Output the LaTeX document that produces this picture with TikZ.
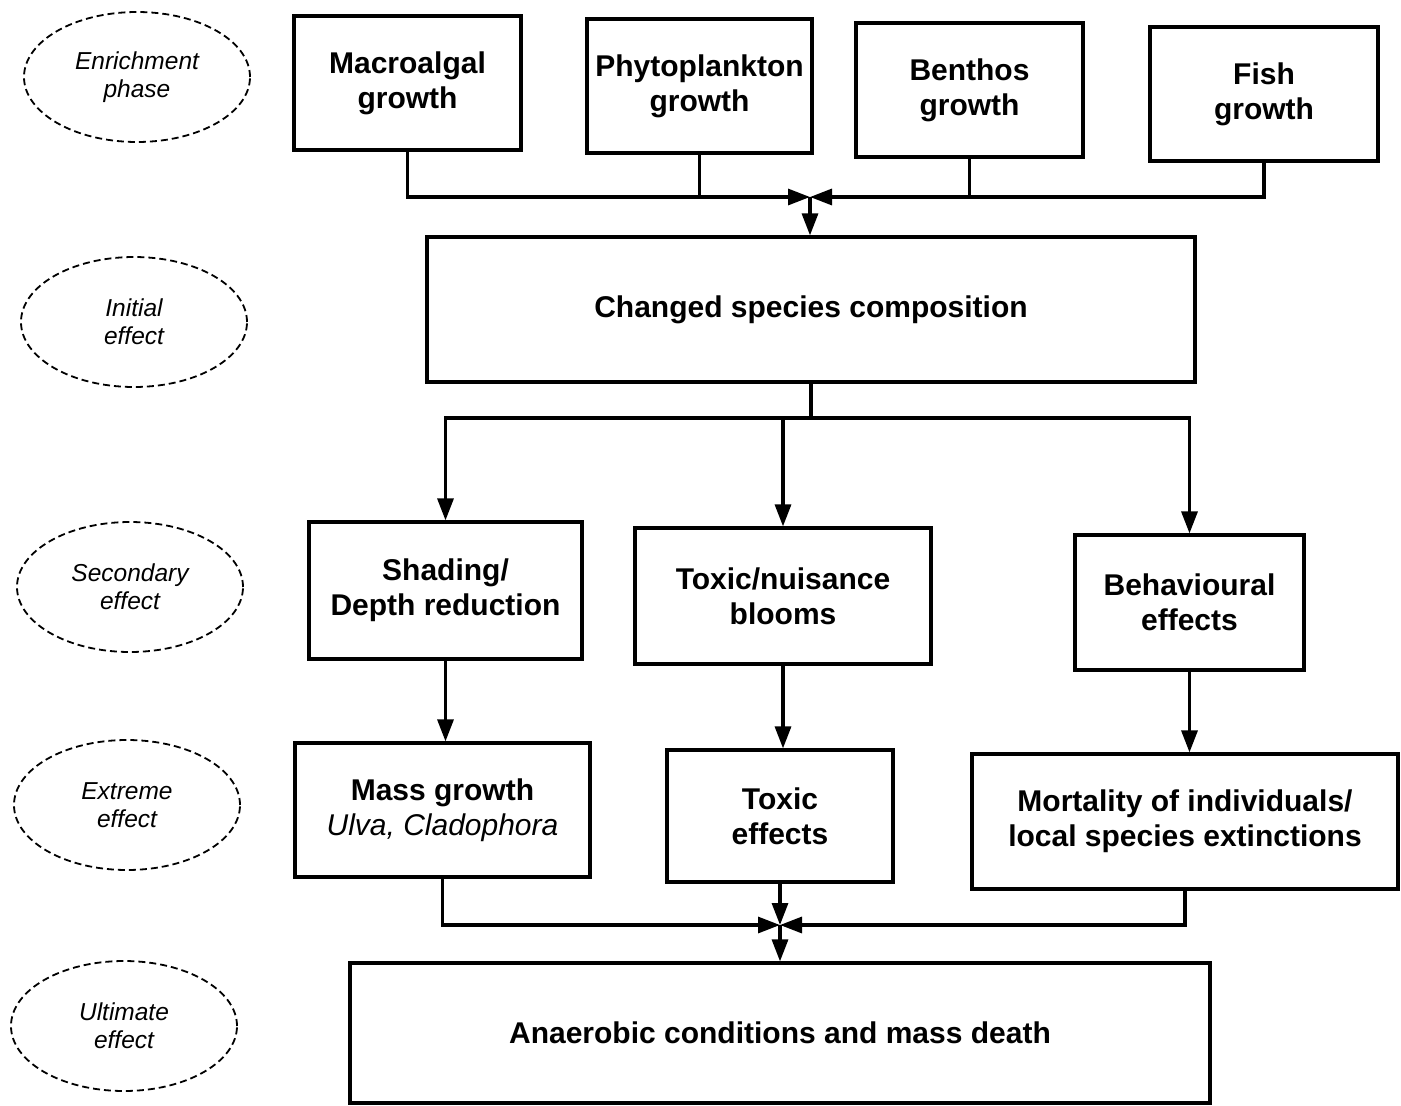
\documentclass[tikz,border=0pt]{standalone}
\usepackage{fontspec}
\setmainfont{Liberation Sans}
\usetikzlibrary{arrows.meta,shapes.geometric}
\begin{document}
\begin{tikzpicture}[x=1pt,y=-1pt,
 box/.style={draw, line width=3.2pt, align=center, inner sep=0pt, font=\bfseries\fontsize{30}{35}\selectfont},
 phase/.style={draw, ellipse, dash pattern=on 7pt off 4pt, line width=1.8pt, align=center, inner sep=0pt,
   minimum width=226pt, minimum height=130pt, font=\itshape\fontsize{24.5}{28}\selectfont},
 link/.style={line width=3.2pt},
 arr/.style={link, -{Triangle[length=22pt,width=16pt]}},
]
\useasboundingbox (0,0) rectangle (1401,1106);

% phase labels
\node[phase] (p1) at (137,77) {Enrichment\\phase};
\node[phase] (p2) at (134,322) {Initial\\effect};
\node[phase] (p3) at (130,587) {Secondary\\effect};
\node[phase] (p4) at (127,805) {Extreme\\effect};
\node[phase] (p5) at (124,1026) {Ultimate\\effect};

% boxes
\node[box, minimum width=227pt, minimum height=134pt] (mac) at (407.5,83) {Macroalgal\\growth};
\node[box, minimum width=225pt, minimum height=134pt] (phy) at (699.5,86) {Phytoplankton\\growth};
\node[box, minimum width=227pt, minimum height=134pt] (ben) at (969.5,90) {Benthos\\growth};
\node[box, minimum width=228pt, minimum height=134pt] (fish) at (1264,94) {Fish\\growth};
\node[box, minimum width=768pt, minimum height=145pt] (chg) at (811,309.5) {Changed species composition};
\node[box, minimum width=273pt, minimum height=137pt] (sha) at (445.5,590.5) {Shading/\\Depth reduction};
\node[box, minimum width=296pt, minimum height=136pt] (tox) at (783,596) {Toxic/nuisance\\blooms};
\node[box, minimum width=229pt, minimum height=135pt] (beh) at (1189.5,602.5) {Behavioural\\effects};
\node[box, minimum width=295pt, minimum height=134pt] (mass) at (442.5,810) {Mass growth\\{\mdseries\itshape Ulva, Cladophora}};
\node[box, minimum width=226pt, minimum height=132pt] (toxe) at (780,816) {Toxic\\effects};
\node[box, minimum width=426pt, minimum height=135pt] (mort) at (1185,821.5) {Mortality of individuals/\\local species extinctions};
\node[box, minimum width=860pt, minimum height=140pt] (ana) at (780,1033) {Anaerobic conditions and mass death};

% junctions
\coordinate (j1) at (810,197);
\coordinate (s1) at (811,418);
\coordinate (j2) at (780,925);

% top convergence
\draw[arr] (mac.south) |- (j1);
\draw[arr] (fish.south) |- (j1);
\draw[link] (phy.south) -- (phy.south |- j1);
\draw[link] (ben.south) -- (ben.south |- j1);
\draw[arr] (j1) -- (j1 |- chg.north);

% split
\draw[link] (chg.south) -- (s1);
\draw[arr] (s1) -| (sha.north);
\draw[arr] (s1) -| (tox.north);
\draw[arr] (s1) -| (beh.north);

% secondary to extreme
\draw[arr] (sha.south) -- (sha.south |- mass.north);
\draw[arr] (tox.south) -- (tox.south |- toxe.north);
\draw[arr] (beh.south) -- (beh.south |- mort.north);

% bottom convergence
\draw[arr] (mass.south) |- (j2);
\draw[arr] (mort.south) |- (j2);
\draw[arr] (toxe.south) -- (j2);
\draw[arr] (j2) -- (j2 |- ana.north);
\end{tikzpicture}
\end{document}
